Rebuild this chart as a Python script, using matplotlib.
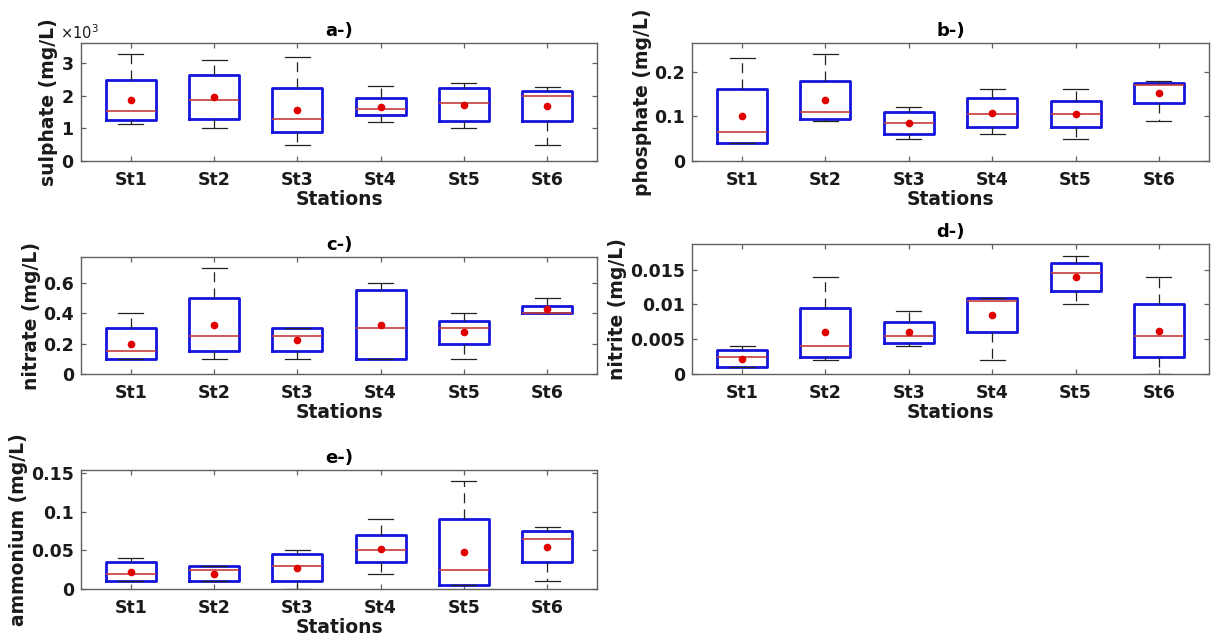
import matplotlib
matplotlib.use("Agg")
import matplotlib.pyplot as plt

stations = ["St1", "St2", "St3", "St4", "St5", "St6"]

# panel a: sulphate (mg/L)
sul_lo = [1130, 1000, 500, 1200, 1000, 500]
sul_q1 = [1250, 1300, 900, 1400, 1220, 1230]
sul_med = [1550, 1890, 1300, 1600, 1780, 2000]
sul_q3 = [2500, 2650, 2250, 1950, 2250, 2150]
sul_hi = [3300, 3100, 3200, 2300, 2400, 2280]
sul_mean = [1880, 1960, 1580, 1660, 1730, 1700]

# panel b: phosphate (mg/L)
pho_lo = [0.04, 0.09, 0.05, 0.06, 0.05, 0.09]
pho_q1 = [0.04, 0.095, 0.06, 0.075, 0.075, 0.13]
pho_med = [0.065, 0.11, 0.085, 0.105, 0.105, 0.17]
pho_q3 = [0.16, 0.18, 0.11, 0.14, 0.135, 0.175]
pho_hi = [0.23, 0.24, 0.12, 0.16, 0.16, 0.18]
pho_mean = [0.10, 0.137, 0.085, 0.107, 0.105, 0.152]

# panel c: nitrate (mg/L)
nitra_lo = [0.1, 0.1, 0.1, 0.1, 0.1, 0.4]
nitra_q1 = [0.1, 0.15, 0.15, 0.1, 0.2, 0.4]
nitra_med = [0.15, 0.25, 0.25, 0.3, 0.3, 0.4]
nitra_q3 = [0.3, 0.5, 0.3, 0.55, 0.35, 0.45]
nitra_hi = [0.4, 0.7, 0.3, 0.6, 0.4, 0.5]
nitra_mean = [0.2, 0.325, 0.225, 0.325, 0.275, 0.425]

# panel d: nitrite (mg/L)
nitri_lo = [0.001, 0.002, 0.004, 0.002, 0.010, 0.0]
nitri_q1 = [0.001, 0.0025, 0.0045, 0.006, 0.012, 0.0025]
nitri_med = [0.0025, 0.004, 0.0055, 0.0105, 0.0145, 0.0055]
nitri_q3 = [0.0035, 0.0095, 0.0075, 0.011, 0.016, 0.010]
nitri_hi = [0.004, 0.014, 0.009, 0.011, 0.017, 0.014]
nitri_mean = [0.0022, 0.006, 0.006, 0.0085, 0.014, 0.0062]

# panel e: ammonium (mg/L)
amm_lo = [0.01, 0.01, 0.0, 0.02, 0.005, 0.01]
amm_q1 = [0.01, 0.01, 0.01, 0.035, 0.005, 0.035]
amm_med = [0.02, 0.025, 0.03, 0.05, 0.025, 0.065]
amm_q3 = [0.035, 0.03, 0.045, 0.07, 0.09, 0.075]
amm_hi = [0.04, 0.03, 0.05, 0.09, 0.14, 0.08]
amm_mean = [0.0225, 0.02, 0.027, 0.052, 0.0475, 0.055]

titles = ["a-)", "b-)", "c-)", "d-)", "e-)"]
ylabels = ["sulphate (mg/L)", "phosphate (mg/L)", "nitrate (mg/L)",
           "nitrite (mg/L)", "ammonium (mg/L)"]
yticks = [[0, 1000, 2000, 3000], [0, 0.1, 0.2], [0, 0.2, 0.4, 0.6],
          [0, 0.005, 0.01, 0.015], [0, 0.05, 0.1, 0.15]]
yticklabels = [None, ["0", "0.1", "0.2"], ["0", "0.2", "0.4", "0.6"],
               ["0", "0.005", "0.01", "0.015"], ["0", "0.05", "0.1", "0.15"]]

panels = [
    (sul_lo, sul_q1, sul_med, sul_q3, sul_hi, sul_mean),
    (pho_lo, pho_q1, pho_med, pho_q3, pho_hi, pho_mean),
    (nitra_lo, nitra_q1, nitra_med, nitra_q3, nitra_hi, nitra_mean),
    (nitri_lo, nitri_q1, nitri_med, nitri_q3, nitri_hi, nitri_mean),
    (amm_lo, amm_q1, amm_med, amm_q3, amm_hi, amm_mean),
]

W, H = 1211, 641
fig = plt.figure(figsize=(W / 100, H / 100), dpi=100)
# axes rectangles in pixels: left, right, top, bottom
rects = [(81, 597, 43, 161), (692, 1209, 43, 161), (81, 597, 257, 374),
         (692, 1209, 244, 374), (81, 597, 470, 589)]

blue = "#1414dc"
red_med = "#c83c3c"
spine_c = "#606060"

for i, (rect, data) in enumerate(zip(rects, panels)):
    l, r, t, b = rect
    ax = fig.add_axes([l / W, 1 - b / H, (r - l) / W, (b - t) / H])
    lo, q1, med, q3, hi, mean = data
    stats = []
    for j, name in enumerate(stations):
        stats.append(dict(label=name, whislo=lo[j], q1=q1[j], med=med[j],
                          q3=q3[j], whishi=hi[j], mean=mean[j], fliers=[]))
    ax.bxp(stats, positions=range(1, 7), widths=0.6, capwidths=0.3,
           showmeans=True, showfliers=False,
           boxprops=dict(color=blue, linewidth=2.0),
           medianprops=dict(color=red_med, linewidth=1.2),
           whiskerprops=dict(color="#222222", linewidth=0.9, linestyle=(0, (8, 5))),
           capprops=dict(color="#222222", linewidth=0.9),
           meanprops=dict(marker="o", markerfacecolor="#e00000",
                          markeredgecolor="#e00000", markersize=4.5))
    ymax = max(hi) * 1.1
    ax.set_ylim(0, ymax)
    ax.set_xlim(0.4, 6.6)
    ax.set_yticks(yticks[i])
    if yticklabels[i] is not None:
        ax.set_yticklabels(yticklabels[i])
    else:
        ax.ticklabel_format(axis="y", style="sci", scilimits=(3, 3), useMathText=True)
        ax.yaxis.get_offset_text().set_fontsize(10.5)
        ax.yaxis.get_offset_text().set_x(-0.04)
    ax.set_xticks(range(1, 7))
    ax.set_xticklabels(stations)
    ax.tick_params(direction="in", length=3.5, width=0.9, color=spine_c,
                   top=True, right=True, labelsize=12.5, pad=5,
                   labelcolor="#1a1a1a")
    ax.tick_params(axis="x", pad=7)
    for lab in ax.get_xticklabels() + ax.get_yticklabels():
        lab.set_fontweight("bold")
    for s in ax.spines.values():
        s.set_color(spine_c)
        s.set_linewidth(1.0)
    ax.set_xlabel("Stations", fontsize=13.5, fontweight="bold", labelpad=1,
                  color="#1a1a1a")
    ax.set_ylabel(ylabels[i], fontsize=13.5, fontweight="bold", labelpad=2,
                  color="#1a1a1a")
    ax.set_title(titles[i], fontsize=13, fontweight="bold", pad=5,
                 color="#000000")

fig.savefig("out.png", dpi=100, facecolor="white")
